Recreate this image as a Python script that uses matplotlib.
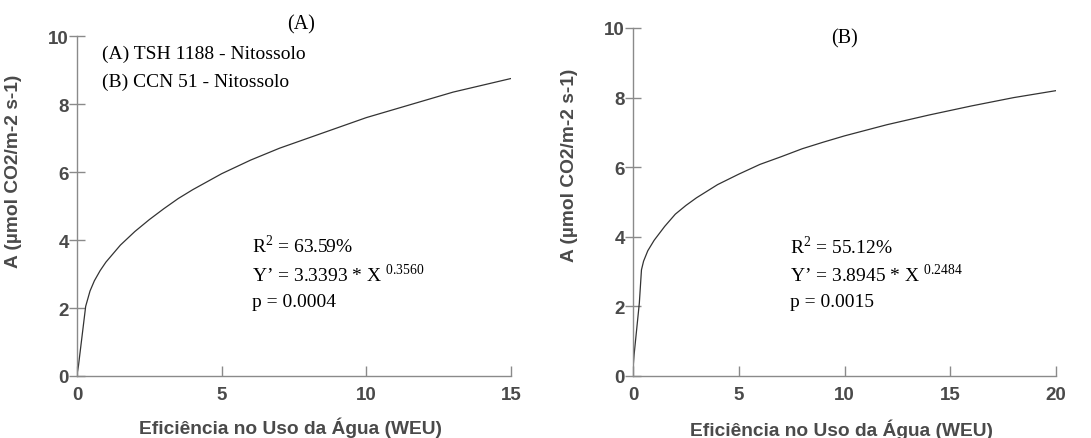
import matplotlib
matplotlib.use("Agg")
import matplotlib.pyplot as plt

# Panel A data
xa = [0.0, 0.05, 0.3, 0.45, 0.6, 0.8, 1, 1.5, 2, 2.5, 3, 3.5, 4, 5, 6, 7, 8, 9, 10,
      11, 12, 13, 14, 15]
ya = [0.05, 0.3, 2.05, 2.5, 2.8, 3.1, 3.35, 3.85, 4.25, 4.6, 4.92, 5.22, 5.48, 5.95,
      6.35, 6.7, 7.0, 7.3, 7.6, 7.85, 8.1, 8.35, 8.55, 8.75]

# Panel B data
xb = [0.0, 0.05, 0.3, 0.4, 0.5, 0.7, 1, 1.5, 2, 2.5, 3, 4, 5, 6, 7, 8, 9, 10, 12,
      14, 16, 18, 20]
yb = [0.2, 0.6, 2.1, 3.05, 3.3, 3.6, 3.9, 4.3, 4.65, 4.9, 5.12, 5.5, 5.8, 6.08, 6.3,
      6.53, 6.72, 6.9, 7.22, 7.5, 7.76, 8.0, 8.2]

xticks_a = [0, 5, 10, 15]
xticks_b = [0, 5, 10, 15, 20]
yticks = [0, 2, 4, 6, 8, 10]

ylabel = "A (µmol CO2/m-2 s-1)"
xlabel = "Eficiência no Uso da Água (WEU)"

stats_a = ["R$^2$ = 63.59%", "Y\u2019 = 3.3393 * X $^{0.3560}$", "p = 0.0004"]
stats_b = ["R$^2$ = 55.12%", "Y\u2019 = 3.8945 * X $^{0.2484}$", "p = 0.0015"]
legend_lines = ["(A) TSH 1188 - Nitossolo", "(B) CCN 51 - Nitossolo"]

plt.rcParams['mathtext.fontset'] = 'custom'
plt.rcParams['mathtext.rm'] = 'Liberation Serif'

W, H = 1091, 439
fig = plt.figure(figsize=(W / 100, H / 100), dpi=100)

gray_spine = "#8a8a8a"
gray_text = "#4a4a4a"
serif = "Liberation Serif"
sans = "Liberation Sans"


def pos(l, r, b, t):
    return [l / W, 1 - b / H, (r - l) / W, (b - t) / H]


axA = fig.add_axes(pos(77, 511, 377, 37))
axB = fig.add_axes(pos(633, 1056, 377, 29))


def style(ax, xmax, xticks, xlab_coords, ylab_coords):
    ax.set_xlim(0, xmax)
    ax.set_ylim(0, 10)
    ax.set_xticks(xticks)
    ax.set_yticks(yticks)
    for s in ["top", "right"]:
        ax.spines[s].set_visible(False)
    for s in ["left", "bottom"]:
        ax.spines[s].set_color(gray_spine)
        ax.spines[s].set_linewidth(1.0)
    ax.tick_params(axis="x", direction="in", length=7, width=1.0, color=gray_spine,
                   pad=7, labelsize=13.5, labelcolor=gray_text)
    ax.tick_params(axis="y", direction="inout", length=12, width=1.0, color=gray_spine,
                   pad=0, labelsize=13.5, labelcolor=gray_text)
    for lab in ax.get_xticklabels() + ax.get_yticklabels():
        lab.set_fontweight("bold")
        lab.set_fontfamily(sans)
    ax.set_ylabel(ylabel, fontsize=13.8, fontweight="bold", color=gray_text,
                  fontfamily=sans)
    ax.set_xlabel(xlabel, fontsize=13.8, fontweight="bold", color=gray_text,
                  fontfamily=sans)
    ax.xaxis.set_label_coords(*xlab_coords)
    ax.yaxis.set_label_coords(*ylab_coords)
    ax.patch.set_visible(False)


axA.plot(xa, ya, color="#333333", lw=0.9)
axB.plot(xb, yb, color="#333333", lw=0.9)

style(axA, 15, xticks_a, (0.491, -0.118), (-0.127, 0.606))
style(axB, 20, xticks_b, (0.494, -0.121), (-0.130, 0.609))

# Panel titles
fig.text(301 / W, 1 - 25 / H, "(A)", fontsize=14.5, fontfamily=serif, ha="center", va="center")
fig.text(845 / W, 1 - 39 / H, "(B)", fontsize=14.5, fontfamily=serif, ha="center", va="center")

# Legend-like text in panel A
for i, t in enumerate(legend_lines):
    fig.text(102 / W, 1 - (54 + 28.5 * i) / H, t, fontsize=14, fontfamily=serif,
             ha="left", va="center")

# Stats
for i, t in enumerate(stats_a):
    fig.text(252 / W, 1 - (246 + 28.5 * i) / H, t, fontsize=14, fontfamily=serif,
             ha="left", va="center")
for i, t in enumerate(stats_b):
    fig.text(790 / W, 1 - (247 + 28 * i) / H, t, fontsize=14, fontfamily=serif,
             ha="left", va="center")

fig.savefig("out.png", dpi=100)
